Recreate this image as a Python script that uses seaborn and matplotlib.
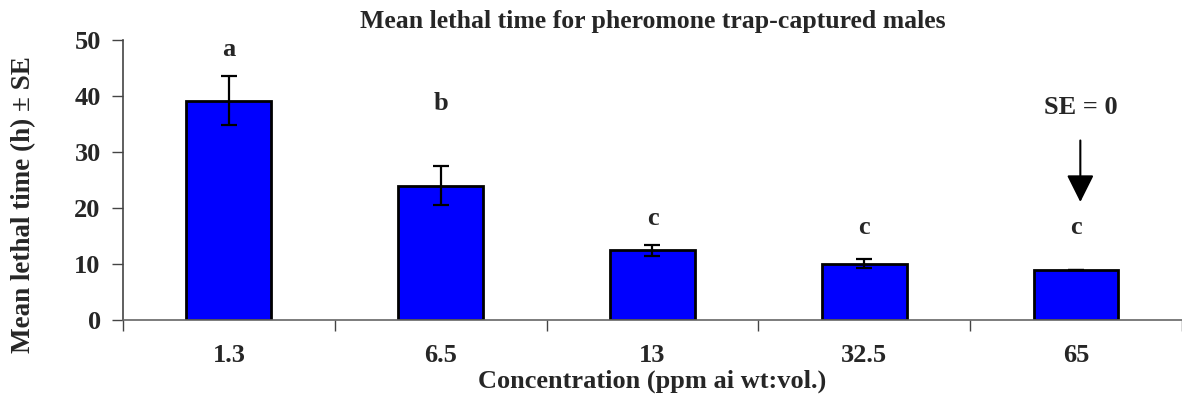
import matplotlib
matplotlib.use("Agg")
import matplotlib.pyplot as plt
import seaborn as sns
import pandas as pd
import numpy as np
from matplotlib.ticker import FixedLocator

concentrations = ["1.3", "6.5", "13", "32.5", "65"]
mean_time = [39.2, 24.0, 12.5, 10.1, 8.9]
se = [4.4, 3.5, 1.0, 0.8, 0.0]
letters = ["a", "b", "c", "c", "c"]
letter_y = [48.3, 38.8, 18.2, 16.5, 16.5]

sns.set_theme(style="white")
plt.rcParams["font.family"] = ["Liberation Serif", "DejaVu Serif"]
plt.rcParams["font.weight"] = "bold"

df = pd.DataFrame({"Concentration": concentrations, "Mean": mean_time, "SE": se})

fig = plt.figure(figsize=(11.82, 4.0), dpi=100)
ax = fig.add_axes([0.104, 0.2, 0.896, 0.699])

sns.barplot(data=df, x="Concentration", y="Mean", order=concentrations,
            color="#0000FF", saturation=1, edgecolor="black", linewidth=2,
            width=0.4, errorbar=None, ax=ax)

xpos = np.arange(len(concentrations))
ax.errorbar(xpos, mean_time, yerr=se, fmt="none", ecolor="black",
            elinewidth=1.6, capsize=6, capthick=1.6, zorder=5)

for x, t, ly in zip(xpos, letters, letter_y):
    ax.text(x, ly, t, ha="center", va="center", fontsize=19, fontweight="bold")

ax.text(4.02, 38.0, "SE = 0", ha="center", va="center", fontsize=19, fontweight="bold")
ax.annotate("", xy=(4.02, 20.6), xytext=(4.02, 32.6),
            arrowprops=dict(arrowstyle="-|>,head_length=1.4,head_width=0.7",
                            color="black", lw=1.5))

ax.set_xlim(-0.5, 4.5)
ax.set_ylim(0, 50)
ax.set_yticks([0, 10, 20, 30, 40, 50])
ax.tick_params(axis="y", labelsize=19, length=8, width=1, direction="out", color="#444444", left=True, pad=8)
ax.xaxis.set_minor_locator(FixedLocator(np.arange(-0.5, 5.0, 1.0)))
ax.tick_params(axis="x", which="major", length=0, labelsize=19, pad=17)
ax.tick_params(axis="x", which="minor", length=8, width=1, direction="out", color="#444444", bottom=True)
for lab in ax.get_xticklabels() + ax.get_yticklabels():
    lab.set_fontweight("bold")

for s in ["top", "right"]:
    ax.spines[s].set_visible(False)
ax.spines["left"].set_color("#444444")
ax.spines["bottom"].set_color("#666666")
ax.spines["left"].set_linewidth(1.2)
ax.spines["bottom"].set_linewidth(1.2)

ax.set_xlabel("Concentration (ppm ai wt:vol.)", fontsize=19, fontweight="bold", labelpad=2)
ax.set_ylabel("Mean lethal time (h) \u00b1 SE", fontsize=19.5, fontweight="bold")
ax.yaxis.set_label_coords(-0.082, 0.414)
ax.set_title("Mean lethal time for pheromone trap-captured males", fontsize=18.5, fontweight="bold", pad=9)

fig.savefig("out.png", dpi=100)
